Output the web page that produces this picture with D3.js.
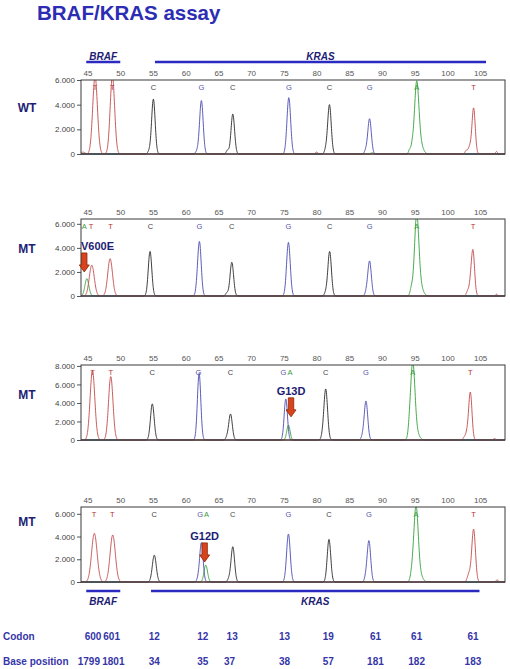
<!DOCTYPE html>
<html><head><meta charset="utf-8">
<script src="https://cdn.jsdelivr.net/npm/d3@7"></script>
<style>
body{margin:0;background:#fff}
svg{display:block;font-family:"Liberation Sans",Arial,Helvetica,sans-serif}
</style>
</head><body>
<svg id="c" width="510" height="669"></svg>
<script>
// ---------------- data ----------------
const title = "BRAF/KRAS assay";
const xTicks = [45, 50, 55, 60, 65, 70, 75, 80, 85, 90, 95, 100, 105];
const panelLabels = ["WT", "MT", "MT", "MT"];
const panelYMax = [6000, 6400, 8100, 6600];
const panelYTicks = [
  [0, 2000, 4000, 6000],
  [0, 2000, 4000, 6000],
  [0, 2000, 4000, 6000, 8000],
  [0, 2000, 4000, 6000]
];
// peaks: [base, size (bp), height (RFU), width sigma (bp)]
const wtPeaks = [
  ["T",44.3,150,.3],["T",46.15,6300,.36],["T",48.8,6300,.34],["T",80.0,150,.2],["T",102.9,300,.2],["T",103.4,550,.2],["T",104.0,3730,.25],["T",107.5,200,.15],
  ["C",54.4,200,.2],["C",55.06,4450,.27],["C",66.4,300,.2],["C",67.2,3240,.27],["C",81.4,300,.2],["C",81.97,4000,.27],
  ["G",61.8,250,.25],["G",62.4,4320,.27],["G",75.76,4570,.28],["G",87.5,250,.2],["G",88.1,2860,.27],
  ["A",88.5,100,.2],["A",94.2,300,.15],["A",94.6,550,.2],["A",95.3,5700,.33],["A",95.9,700,.4]
];
const v600ePeaks = [
  ["A",44.9,1440,.3],["A",94.5,600,.2],["A",95.3,6600,.33],["A",95.9,700,.4],
  ["T",45.65,2560,.38],["T",48.45,3100,.36],["T",103.1,400,.2],["T",103.5,700,.2],["T",103.9,3770,.25],["T",107.5,150,.15],
  ["C",54.55,3700,.27],["C",66.3,250,.2],["C",67.05,2800,.27],["C",81.4,250,.2],["C",82.0,3700,.27],
  ["G",61.7,250,.2],["G",62.1,4500,.27],["G",75.7,4450,.28],["G",87.6,250,.2],["G",88.1,2900,.27]
];
const g13dPeaks = [
  ["T",45.75,7500,.36],["T",48.55,6850,.34],["T",102.6,300,.2],["T",103.0,700,.2],["T",103.5,5150,.25],["T",107.2,150,.15],
  ["C",54.9,3900,.28],["C",66.3,250,.2],["C",66.85,2800,.27],["C",80.9,300,.2],["C",81.4,5500,.28],
  ["G",62.05,7200,.26],["G",75.3,4430,.25],["G",87.0,300,.2],["G",87.55,4200,.27],
  ["A",75.7,1600,.25],["A",94.2,700,.2],["A",94.7,8200,.33],["A",95.3,700,.4]
];
const g12dPeaks = [
  ["T",46.04,4280,.42],["T",48.85,4140,.4],["T",103.3,700,.25],["T",104.0,4640,.28],["T",107.6,200,.15],
  ["C",55.2,2360,.3],["C",66.6,250,.2],["C",67.2,3100,.27],["C",81.9,3750,.27],
  ["G",61.9,250,.2],["G",62.4,3460,.26],["G",75.7,4220,.28],["G",87.5,300,.2],["G",88.0,3630,.27],
  ["A",63.07,1480,.27],["A",94.6,700,.25],["A",95.2,6500,.33],["A",95.8,600,.4]
];
// base calls: [base, size (bp)]
const wtCalls = [["T",46.15],["T",48.8],["C",55.06],["G",62.4],["C",67.2],["G",75.76],["C",81.97],["G",88.1],["A",95.3],["T",104.0]];
const v600eCalls = [["A",44.5],["T",45.55],["T",48.5],["C",54.6],["G",62.1],["C",67.05],["G",75.7],["C",82.0],["G",88.1],["A",95.3],["T",103.9]];
const g13dCalls = [["T",45.75],["T",48.55],["C",54.9],["G",61.95],["C",66.85],["G",74.95],["A",75.95],["C",81.4],["G",87.55],["A",94.7],["T",103.5]];
const g12dCalls = [["T",46.0],["T",48.8],["C",55.2],["G",62.2],["A",63.2],["C",67.2],["G",75.7],["C",81.9],["G",88.0],["A",95.2],["T",104.0]];
// mutations: [panel index, name, size (bp), arrow tip height (RFU)]
const mutations = [[1,"V600E",44.5,2000],[2,"G13D",76.1,2500],[3,"G12D",62.9,1770]];
// gene spans (bp)
const geneNames = ["BRAF", "KRAS"];
const geneSpansTop = [[44.8, 50.0], [55.3, 105.9]];
const geneSpansBottom = [[44.8, 50.0], [54.7, 104.9]];
// codon / base position table
const codons = ["600","601","12","12","13","13","19","61","61","61"];
const codonX = [45.85, 48.68, 55.2, 62.6, 67.1, 75.1, 81.8, 89.0, 95.3, 103.9];
const basePositions = ["1799","1801","34","35","37","38","57","181","182","183"];
const basePosX = [45.2, 48.95, 55.2, 62.6, 66.7, 75.1, 81.8, 89.0, 95.3, 103.9];

const panelPeaks = [wtPeaks, v600ePeaks, g13dPeaks, g12dPeaks];
const panelCalls = [wtCalls, v600eCalls, g13dCalls, g12dCalls];

// ---------------- styles / layout ----------------
const traceColor = {T:"#c24a4a", C:"#2a2a2a", G:"#4a4ab2", A:"#34a03c"};
const callColor = {T:"#b83030", C:"#444", G:"#5555aa", A:"#3a9a3a"};
const navy = "#1d1d74";
const layout = [{top:80,bottom:154},{top:219,bottom:296},{top:365,bottom:440},{top:507,bottom:582}];
const labelY = [112, 253, 399, 526];
const X0 = 81, X1 = 505;

const svg = d3.select("#c");
const x = d3.scaleLinear().domain([44.0, 108.8]).range([X0, X1]);
const loc = d3.formatLocale({decimal:",", thousands:".", grouping:[3], currency:["",""]});
const fmt = loc.format(",");

svg.append("text").attr("x", 37).attr("y", 20).attr("font-size", 20.5).attr("font-weight", "bold")
  .attr("fill", "#2d2db4").text(title);

function geneBars(spans, lineY, textY) {
  spans.forEach((s, i) => {
    svg.append("line").attr("x1", x(s[0])).attr("x2", x(s[1])).attr("y1", lineY).attr("y2", lineY)
      .attr("stroke", "#2a2ac0").attr("stroke-width", 2.6);
    svg.append("text").attr("x", (x(s[0]) + x(s[1])) / 2).attr("y", textY).attr("text-anchor", "middle")
      .attr("font-size", 10).attr("font-weight", "bold").attr("font-style", "italic").attr("fill", navy)
      .text(geneNames[i]);
  });
}
geneBars(geneSpansTop, 62, 59.5);
geneBars(geneSpansBottom, 591, 605);

const step = 0.03;
const samples = d3.range(44.0, 108.8 + step / 2, step);

panelPeaks.forEach((peaks, pi) => {
  const L = layout[pi];
  const y = d3.scaleLinear().domain([0, panelYMax[pi]]).range([L.bottom, L.top]);
  const g = svg.append("g");
  const clipId = "clip" + pi;
  svg.append("clipPath").attr("id", clipId).append("rect")
    .attr("x", X0).attr("y", L.top).attr("width", X1 - X0).attr("height", L.bottom - L.top + 1);

  // panel label
  svg.append("text").attr("x", 27).attr("y", labelY[pi]).attr("text-anchor", "middle")
    .attr("font-size", 12).attr("font-weight", "bold").attr("fill", navy).text(panelLabels[pi]);

  // top size axis
  const ax = g.append("g").attr("transform", `translate(0,${L.top})`)
    .call(d3.axisTop(x).tickValues(xTicks).tickSize(0).tickPadding(4));
  ax.select(".domain").remove();
  ax.selectAll("text").attr("font-size", 8).attr("fill", "#555").attr("font-family", "Liberation Sans, Arial, sans-serif");

  // y axis
  const ay = g.append("g").attr("transform", `translate(${X0},0)`)
    .call(d3.axisLeft(y).tickValues(panelYTicks[pi]).tickSize(4).tickPadding(2).tickFormat(fmt));
  ay.select(".domain").remove();
  ay.selectAll("line").attr("stroke", "#555");
  ay.selectAll("text").attr("font-size", 8).attr("fill", "#444").attr("font-family", "Liberation Sans, Arial, sans-serif");

  // base calls
  g.selectAll("text.call").data(panelCalls[pi]).enter().append("text").attr("class", "call")
    .attr("x", d => x(d[1])).attr("y", L.top + 10).attr("text-anchor", "middle")
    .attr("font-size", 7.5).attr("fill", d => callColor[d[0]]).text(d => d[0]);

  // traces
  const line = d3.line().x(d => x(d[0])).y(d => y(d[1]));
  const traces = g.append("g").attr("clip-path", `url(#${clipId})`);
  ["A", "G", "C", "T"].forEach(b => {
    const pk = peaks.filter(p => p[0] === b);
    const pts = samples.map(s => [s, d3.sum(pk, p => p[2] * Math.exp(-((s - p[1]) ** 2) / (2 * p[3] * p[3])))]);
    traces.append("path").datum(pts).attr("d", line).attr("fill", "none")
      .attr("stroke", traceColor[b]).attr("stroke-width", 1).attr("stroke-opacity", 0.9);
  });

  // box
  g.append("rect").attr("x", X0).attr("y", L.top).attr("width", X1 - X0).attr("height", L.bottom - L.top)
    .attr("fill", "none").attr("stroke", "#3a3a3a").attr("stroke-width", 1);

  // mutation arrows
  mutations.filter(m => m[0] === pi).forEach(m => {
    const ax_ = x(m[2]), tip = y(m[3]), top = tip - 19;
    const sw = 2.7, hw = 5, hl = 7;
    const pts = [[ax_ - sw, top], [ax_ + sw, top], [ax_ + sw, tip - hl], [ax_ + hw, tip - hl], [ax_, tip],
                 [ax_ - hw, tip - hl], [ax_ - sw, tip - hl]];
    g.append("path").attr("d", d3.line()(pts) + "Z").attr("fill", "#d8441c").attr("stroke", "#8a2408").attr("stroke-width", 0.8);
    const t = g.append("text").attr("y", top - 3).attr("font-size", 11).attr("font-weight", "bold")
      .attr("fill", navy).text(m[1]);
    const w = t.node().getComputedTextLength();
    const cx = Math.max(ax_, X0 + w / 2);
    t.attr("x", cx).attr("text-anchor", "middle");
  });
});

// table
function row(label, values, xs, yb) {
  svg.append("text").attr("x", 3).attr("y", yb).attr("font-size", 10).attr("font-weight", "bold")
    .attr("fill", "#3535a8").text(label);
  svg.selectAll(null).data(values).enter().append("text")
    .attr("x", (d, i) => x(xs[i])).attr("y", yb).attr("text-anchor", "middle")
    .attr("font-size", 10).attr("font-weight", "bold").attr("fill", "#3535a8").text(d => d);
}
row("Codon", codons, codonX, 640);
row("Base position", basePositions, basePosX, 665);
</script>
</body></html>
